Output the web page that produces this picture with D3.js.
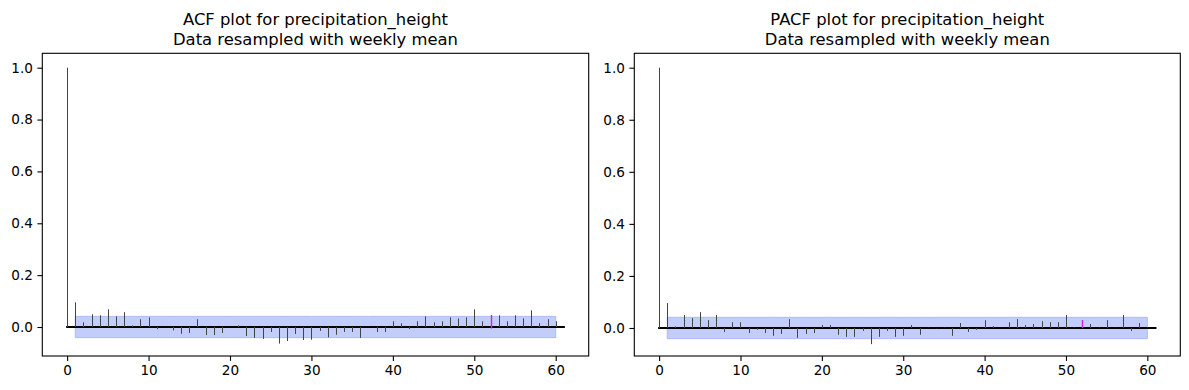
<!DOCTYPE html>
<html>
<head>
<meta charset="utf-8">
<script src="https://cdn.jsdelivr.net/npm/d3@7"></script>
<style>
  html, body { margin: 0; padding: 0; background: #fff; }
  svg { display: block; font-family: "DejaVu Sans", sans-serif; }
</style>
</head>
<body>
<svg id="chart" width="1189" height="390"></svg>
<script>
// ---------- data ----------
const lags = [0,1,2,3,4,5,6,7,8,9,10,11,12,13,14,15,16,17,18,19,20,21,22,23,24,25,26,27,28,29,30,
  31,32,33,34,35,36,37,38,39,40,41,42,43,44,45,46,47,48,49,50,51,52,53,54,55,56,57,58,59,60];

const acfValues = [1.0, 0.095, 0.018, 0.049, 0.045, 0.068, 0.041, 0.057, 0.006, 0.030, 0.037,
  -0.008, 0.001, -0.013, -0.026, -0.023, 0.030, -0.031, -0.031, -0.023, 0.001,
  0.006, -0.035, -0.042, -0.046, -0.019, -0.064, -0.054, -0.027, -0.050, -0.049,
  -0.015, -0.040, -0.030, -0.019, -0.019, -0.042, 0.001, -0.019, -0.019, 0.022,
  0.014, -0.008, 0.022, 0.041, 0.018, 0.022, 0.037, 0.033, 0.037, 0.068,
  0.022, 0.046, 0.045, 0.022, 0.045, 0.033, 0.064, 0.015, 0.030, 0.022];

const pacfValues = [1.0, 0.096, 0.006, 0.050, 0.038, 0.061, 0.030, 0.050, -0.015, 0.022, 0.022,
  -0.019, -0.007, -0.019, -0.030, -0.023, 0.034, -0.038, -0.023, -0.019, 0.011,
  0.011, -0.026, -0.034, -0.034, -0.011, -0.062, -0.034, -0.011, -0.034, -0.030,
  0.011, -0.026, 0.001, -0.001, 0.001, -0.030, 0.019, -0.015, -0.007, 0.030,
  0.007, 0.001, 0.022, 0.034, 0.011, 0.015, 0.026, 0.022, 0.022, 0.050,
  0.002, 0.030, 0.015, 0.002, 0.030, 0.001, 0.050, -0.011, 0.019, 0.002];

const confUpper = 0.041;
const confLower = -0.041;
const highlightLag = 52;

const xTicks = [0, 10, 20, 30, 40, 50, 60];
const yTicks = [0.0, 0.2, 0.4, 0.6, 0.8, 1.0];

const titlesAcf = ["ACF plot for precipitation_height", "Data resampled with weekly mean"];
const titlesPacf = ["PACF plot for precipitation_height", "Data resampled with weekly mean"];

// ---------- drawing ----------
const svg = d3.select("#chart");
svg.append("rect").attr("width", 1189).attr("height", 390).attr("fill", "#fff");

function drawPanel(opt) {
  const { left, right, top, bottom, yDomain, values, titles, hlLow } = opt;
  const g = svg.append("g");
  const x = d3.scaleLinear().domain([-3.05, 64.05]).range([left, right]);
  const y = d3.scaleLinear().domain(yDomain).range([bottom, top]);

  // confidence band (lags 1..60)
  const bandLags = lags.filter(l => l >= 1);
  const area = d3.area()
    .x(d => x(d))
    .y0(() => y(confLower))
    .y1(() => y(confUpper));
  g.append("path")
    .datum(bandLags)
    .attr("d", area)
    .attr("fill", "#c3cdf9")
    .attr("stroke", "#adbcf6")
    .attr("stroke-width", 1);

  // zero line
  g.append("line")
    .attr("x1", x(0)).attr("x2", x(61))
    .attr("y1", y(0)).attr("y2", y(0))
    .attr("stroke", "#000").attr("stroke-width", 2)
    .attr("stroke-linecap", "square");

  // stems
  g.selectAll("line.stem")
    .data(lags.map((l, i) => ({ lag: l, v: values[i] })))
    .enter().append("line")
    .attr("class", "stem")
    .attr("x1", d => Math.round(x(d.lag)) + 0.5)
    .attr("x2", d => Math.round(x(d.lag)) + 0.5)
    .attr("y1", y(0))
    .attr("y2", d => y(d.v))
    .attr("stroke", "#444")
    .attr("stroke-width", 1);

  // highlighted seasonal lag
  const hv = values[lags.indexOf(highlightLag)];
  g.append("line")
    .attr("x1", Math.round(x(highlightLag)) + 0.5)
    .attr("x2", Math.round(x(highlightLag)) + 0.5)
    .attr("y1", y(hlLow))
    .attr("y2", y(hv))
    .attr("stroke", "#d41fd4")
    .attr("stroke-width", 1.4);

  // axes
  const xAxis = d3.axisBottom(x).tickValues(xTicks).tickFormat(d3.format("d"))
    .tickSize(4.9).tickPadding(4.5);
  const yAxis = d3.axisLeft(y).tickValues(yTicks).tickFormat(d3.format(".1f"))
    .tickSize(4.9).tickPadding(4.5);

  const gx = g.append("g").attr("transform", `translate(0,${bottom})`).call(xAxis);
  const gy = g.append("g").attr("transform", `translate(${left},0)`).call(yAxis);
  [gx, gy].forEach(a => {
    a.select(".domain").remove();
    a.selectAll(".tick line").attr("stroke", "#000").attr("stroke-width", 1.1);
    a.selectAll(".tick text").attr("fill", "#000").style("font-size", "13.6px")
      .style("font-family", "DejaVu Sans, sans-serif");
  });

  // frame
  g.append("rect")
    .attr("x", left).attr("y", top)
    .attr("width", right - left).attr("height", bottom - top)
    .attr("fill", "none").attr("stroke", "#000").attr("stroke-width", 1.1);

  // title
  const cx = (left + right) / 2;
  g.append("text")
    .attr("x", cx).attr("y", 25)
    .attr("text-anchor", "middle")
    .style("font-size", "16.4px")
    .text(titles[0]);
  g.append("text")
    .attr("x", cx).attr("y", 44.5)
    .attr("text-anchor", "middle")
    .style("font-size", "16.4px")
    .text(titles[1]);
}

drawPanel({ left: 42.3, right: 588.7, top: 53.3, bottom: 356, yDomain: [-0.1118, 1.0555],
  values: acfValues, titles: titlesAcf, hlLow: -0.006 });
drawPanel({ left: 634.3, right: 1180.3, top: 53.3, bottom: 356, yDomain: [-0.1076, 1.0553],
  values: pacfValues, titles: titlesPacf, hlLow: 0.0 });
</script>
</body>
</html>
